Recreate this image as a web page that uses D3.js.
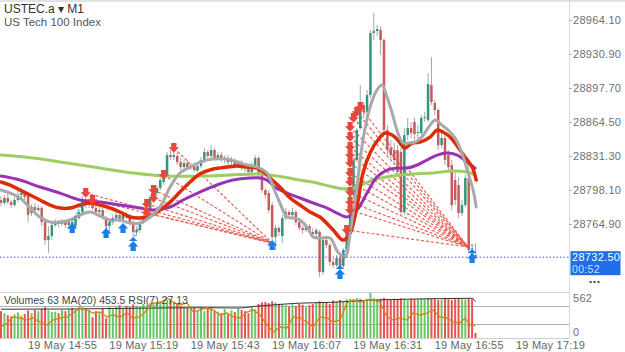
<!DOCTYPE html>
<html>
<head>
<meta charset="utf-8">
<script src="https://cdn.jsdelivr.net/npm/d3@7"></script>
<style>
  body { margin: 0; background: #fff; }
  svg { display: block; font-family: "Liberation Sans", Arial, sans-serif; }
</style>
</head>
<body>
<div id="main"></div>
<script>
// ---- data ----
var priceTicks = [28964.10, 28930.90, 28897.70, 28864.50, 28831.30, 28798.10, 28764.90];
var tickBars = [18, 42, 66, 90, 114, 138, 162];
var timeLabels = ["19 May 14:55", "19 May 15:19", "19 May 15:43", "19 May 16:07",
                  "19 May 16:31", "19 May 16:55", "19 May 17:19"];
var lastPrice = 28732.50;

// [open, high, low, close], one per M1 bar starting 14:37
var candles = [
  [28788.3,28792.2,28782.4,28785.4],[28785.4,28793.2,28783.4,28790.3],[28790.3,28794.2,28784.4,28786.3],
  [28786.3,28788.3,28780.5,28783.4],[28783.4,28791.2,28781.5,28788.3],[28788.3,28798.1,28786.3,28793.2],
  [28793.2,28800.0,28790.3,28795.1],[28795.1,28798.1,28788.3,28791.2],[28793.2,28795.1,28766.8,28773.7],
  [28775.6,28784.4,28772.7,28781.5],[28781.5,28785.4,28775.6,28778.5],[28778.5,28783.4,28776.6,28780.5],
  [28780.5,28782.4,28762.9,28766.8],[28766.8,28768.8,28744.4,28749.2],[28749.2,28762.9,28736.6,28753.1],
  [28753.1,28766.8,28749.2,28763.9],[28763.9,28769.7,28761.9,28766.8],[28766.8,28768.8,28761.9,28764.9],
  [28764.9,28769.7,28762.9,28766.8],[28766.8,28768.8,28761.0,28763.9],[28763.9,28769.7,28760.0,28766.8],
  [28766.8,28769.7,28757.1,28762.9],[28762.9,28772.7,28761.0,28770.7],[28770.7,28778.5,28768.8,28776.6],
  [28776.6,28792.2,28774.6,28788.3],[28788.3,28790.3,28780.5,28783.4],[28783.4,28788.3,28780.5,28785.4],
  [28785.4,28788.3,28778.5,28780.5],[28780.5,28783.4,28773.7,28776.6],[28776.6,28781.5,28774.6,28778.5],
  [28778.5,28780.5,28768.8,28770.7],[28770.7,28772.7,28759.0,28762.9],[28762.9,28769.7,28757.1,28766.8],
  [28766.8,28773.7,28763.9,28770.7],[28770.7,28776.6,28768.8,28773.7],[28773.7,28775.6,28766.8,28769.7],
  [28769.7,28776.6,28766.8,28774.6],[28774.6,28776.6,28769.7,28772.7],[28772.7,28774.6,28763.9,28766.8],
  [28766.8,28768.8,28752.2,28757.1],[28757.1,28762.9,28753.1,28759.0],[28759.0,28768.8,28756.1,28766.8],
  [28766.8,28773.7,28764.9,28770.7],[28770.7,28781.5,28768.8,28778.5],[28778.5,28793.2,28776.6,28790.3],
  [28790.3,28798.1,28788.3,28795.1],[28795.1,28802.9,28792.2,28800.0],[28800.0,28809.8,28798.1,28807.8],
  [28805.9,28815.6,28802.9,28813.7],[28813.7,28835.2,28812.7,28832.2],[28832.2,28837.1,28827.4,28830.3],
  [28830.3,28837.1,28827.4,28832.2],[28831.3,28834.2,28822.5,28825.4],[28825.4,28829.3,28817.6,28820.5],
  [28820.5,28827.4,28817.6,28824.4],[28824.4,28827.4,28817.6,28819.5],[28819.5,28824.4,28817.6,28821.5],
  [28821.5,28824.4,28815.6,28817.6],[28817.6,28824.4,28815.6,28821.5],[28821.5,28830.3,28819.5,28827.4],
  [28827.4,28839.1,28824.4,28835.2],[28835.2,28837.1,28829.3,28831.3],[28831.3,28842.0,28829.3,28837.1],
  [28837.1,28839.1,28827.4,28829.3],[28829.3,28835.2,28827.4,28832.2],[28832.2,28835.2,28825.4,28827.4],
  [28827.4,28832.2,28824.4,28829.3],[28829.3,28832.2,28822.5,28825.4],[28825.4,28830.3,28822.5,28827.4],
  [28827.4,28829.3,28820.5,28822.5],[28822.5,28827.4,28819.5,28824.4],[28824.4,28827.4,28817.6,28820.5],
  [28820.5,28823.5,28815.6,28819.5],[28819.5,28822.5,28812.7,28815.6],[28815.6,28825.4,28812.7,28822.5],
  [28822.5,28832.2,28820.5,28829.3],[28829.3,28831.3,28809.8,28812.7],[28812.7,28814.7,28795.1,28798.1],
  [28798.1,28800.0,28790.3,28793.2],[28795.1,28798.1,28775.6,28778.5],[28783.4,28786.3,28749.2,28752.2],
  [28752.2,28763.9,28739.5,28761.0],[28761.0,28762.9,28753.1,28757.1],[28753.1,28773.7,28746.3,28770.7],
  [28770.7,28780.5,28768.8,28776.6],[28776.6,28778.5,28770.7,28773.7],[28773.7,28780.5,28771.7,28776.6],
  [28776.6,28778.5,28763.9,28766.8],[28766.8,28770.7,28759.0,28761.0],[28761.0,28763.9,28755.1,28759.0],
  [28759.0,28764.9,28757.1,28762.9],[28762.9,28764.9,28755.1,28757.1],[28757.1,28761.0,28752.2,28755.1],
  [28755.1,28761.0,28752.2,28759.0],[28757.1,28759.0,28713.1,28718.0],[28718.0,28752.2,28715.1,28749.2],
  [28749.2,28752.2,28741.4,28744.4],[28744.4,28746.3,28723.9,28727.8],[28727.8,28731.7,28721.9,28724.8],
  [28724.8,28734.6,28722.9,28731.7],[28731.7,28734.6,28715.1,28723.9],[28723.9,28741.4,28721.9,28739.5],
  [28739.5,28759.0,28736.6,28757.1],[28757.1,28795.1,28755.1,28793.2],[28793.2,28829.3,28790.3,28827.4],
  [28827.4,28858.6,28825.4,28856.7],[28858.6,28900.6,28856.7,28881.1],[28881.1,28884.0,28868.4,28874.2],
  [28874.2,28895.7,28871.3,28890.8],[28890.8,28954.3,28887.9,28951.4],[28951.4,28970.9,28944.5,28953.3],
  [28953.3,28959.2,28948.4,28955.3],[28954.3,28958.2,28929.9,28944.5],[28944.5,28946.5,28851.8,28856.7],
  [28856.7,28861.5,28832.2,28837.1],[28839.1,28846.9,28827.4,28832.2],[28837.1,28844.0,28822.5,28827.4],
  [28837.1,28842.0,28812.7,28815.6],[28835.2,28839.1,28773.7,28776.6],[28776.6,28858.6,28773.7,28851.8],
  [28851.8,28868.4,28846.9,28858.6],[28858.6,28864.5,28848.8,28853.7],[28864.5,28868.4,28846.9,28852.7],
  [28853.7,28861.5,28842.0,28854.7],[28853.7,28871.3,28851.8,28868.4],[28868.4,28874.2,28864.5,28869.3],
  [28866.4,28912.3,28864.5,28901.6],[28900.6,28927.9,28881.1,28884.0],[28883.0,28886.0,28871.3,28876.2],
  [28876.2,28878.1,28837.1,28842.0],[28842.0,28853.7,28839.1,28848.8],[28848.8,28851.8,28822.5,28827.4],
  [28832.2,28837.1,28815.6,28820.5],[28822.5,28827.4,28778.5,28783.4],[28807.8,28815.6,28783.4,28788.3],
  [28802.9,28810.8,28770.7,28775.6],[28775.6,28788.3,28772.7,28783.4],[28783.4,28812.7,28781.5,28809.8],
  [28809.8,28827.4,28736.6,28739.5],[28739.5,28744.4,28731.7,28734.6],[28734.6,28746.3,28731.7,28732.5]
];

var volumes = [
  335,310,285,270,295,320,280,300,345,310, 350,335,365,385,345,325,330,310,350,335,
  360,375,350,385,395,370,350,260,335,310, 370,245,385,360,395,410,375,400,385,420,
  405,390,425,410,435,420,450,460,445,475, 465,445,425,395,385,375,400,375,350,385,
  335,370,395,345,330,310,360,295,345,325, 370,350,335,310,385,360,425,445,450,435,
  460,445,425,420,410,395,420,400,425,415, 385,410,425,445,460,435,445,425,470,455,
  475,460,485,490,480,500,490,475,490,562, 495,485,490,500,490,475,490,485,495,490,
  475,490,485,480,490,485,500,490,485,475, 480,490,485,475,485,490,485,480,490,485,
  63
];

// [bar, value] samples of the indicators
var volMA = [[0,360],[20,362],[40,372],[60,378],[70,375],[75,395],[88,435],[98,446],
             [108,470],[120,485],[130,492],[139,496],[140,453.5]];
var rsi = [[0,23.9],[1.8,32.6],[3.5,45.7],[5.6,43.5],[7.7,39.1],[9.4,43.5],[11.5,34.8],[13.6,28.3],
  [15.3,39.1],[17.4,43.5],[19.5,45.7],[21.2,54.3],[23.3,65.2],[25.4,60.9],[27.1,54.3],[29.2,56.5],
  [31.3,45.7],[33,50],[35.1,45.7],[37.2,54.3],[39,43.5],[41,45.7],[43.1,60.9],[44.9,76.1],
  [46.9,76.1],[49,87],[50.8,78.3],[52.8,71.7],[54.9,76.1],[56.7,56.5],[58.7,60.9],[60.8,65.2],
  [62.6,60.9],[64.6,50],[66.7,54.3],[68.5,45.7],[70.5,43.5],[72.6,56.5],[74.4,60.9],[76.4,50],
  [78.5,28.3],[80.3,13],[82.3,23.9],[84.4,21.7],[86.2,45.7],[88.2,43.5],[90.3,34.8],[92.1,23.9],
  [94.1,45.7],[96.2,43.5],[98,34.8],[100,39.1],[102.1,76.1],[103.9,82.6],[105.9,78.3],[108,82.6],
  [109.8,82.6],[111.8,78.3],[113.9,45.7],[115.7,39.1],[117.7,43.5],[119.8,39.1],[121.6,54.3],
  [123.6,50],[125.7,54.3],[127.5,60.9],[129.5,45.7],[131.6,43.5],[133.4,34.8],[135.4,32.6],
  [136.9,43.5],[138.4,28.3],[140,27.13]];

var maGray = [[0,28798.1],[2.7,28795.1],[5.6,28790.3],[8.6,28780.5],[11.5,28771.7],[14.5,28766.8],
  [17.4,28766.8],[20.4,28768.8],[23.3,28773.7],[26.3,28776.6],[29.2,28772.7],[32.2,28768.8],
  [35.1,28768.8],[38.1,28765.8],[41,28765.8],[44,28771.7],[46.9,28781.5],[49.9,28801.0],
  [52.8,28814.7],[55.8,28820.5],[58.7,28825.4],[62.6,28828.3],[66.7,28828.3],[69.6,28825.4],
  [72.6,28822.5],[75.5,28820.5],[78.5,28814.7],[80.3,28801.0],[82.3,28785.4],[84.4,28771.7],
  [86.2,28770.7],[88.2,28768.8],[90.3,28761.9],[92.1,28752.2],[94.1,28751.2],[97.1,28751.2],
  [99.4,28737.5],[101.5,28732.6],[103,28756.1],[105,28801.0],[106.8,28846.9],[108.9,28879.1],
  [110.9,28895.7],[112.4,28900.6],[113.9,28888.9],[115.4,28873.3],[117.1,28853.7],[118.6,28844.0],
  [120.1,28844.0],[122.2,28844.9],[124.2,28849.8],[126,28858.6],[128.1,28866.4],[130.1,28861.5],
  [131.9,28856.7],[134,28848.8],[136,28834.2],[137.8,28814.7],[139.3,28798.1],[140.2,28781.5]];
var maRed = [[0,28805.9],[2.7,28802.9],[5.6,28798.1],[8.6,28793.2],[11.5,28788.3],[14.5,28783.4],
  [17.4,28780.5],[20.4,28780.5],[23.3,28783.4],[26.3,28785.4],[29.2,28783.4],[32.2,28780.5],
  [35.1,28776.6],[38.1,28771.7],[41,28770.7],[44,28772.7],[46.9,28778.5],[49.9,28786.3],
  [52.8,28796.1],[55.8,28805.9],[58.7,28813.7],[62.6,28818.6],[66.7,28820.5],[69.6,28821.5],
  [72.6,28820.5],[75.5,28819.5],[77.9,28814.7],[79.4,28809.8],[82.3,28801.0],[85.3,28790.3],
  [88.2,28783.4],[91.2,28776.6],[94.1,28771.7],[98,28759.0],[100.9,28749.2],[103,28756.1],
  [105,28781.5],[106.8,28814.7],[108.9,28834.2],[111.2,28846.9],[113.3,28853.7],[115.4,28851.8],
  [117.1,28846.9],[119.2,28839.1],[121.3,28844.0],[123.6,28844.9],[126.6,28849.8],[128.7,28856.7],
  [130.4,28854.7],[132.5,28849.8],[134.8,28840.1],[136.9,28830.3],[139,28820.5],[140.2,28807.8]];
var maPurple = [[0,28811.7],[5.6,28807.8],[11.5,28801.0],[17.4,28795.1],[23.3,28788.3],[29.2,28786.3],
  [35.1,28783.4],[41,28780.5],[44.8,28778.5],[49.9,28781.5],[53.7,28788.3],[58.7,28796.1],
  [63.7,28803.0],[68.5,28807.8],[73.5,28809.8],[76.4,28809.8],[78.5,28807.8],[80.8,28801.0],
  [84.4,28795.1],[88.2,28790.3],[92.1,28785.4],[96.2,28780.5],[99.1,28775.6],[102.1,28771.7],
  [105,28778.5],[108,28795.1],[110.9,28810.8],[113.9,28817.6],[116.8,28819.5],[119.8,28819.5],
  [122.8,28822.5],[125.7,28827.4],[128.7,28832.2],[131.6,28834.2],[134.6,28832.2],[137.5,28825.4],
  [139.9,28819.5]];
var maGreen = [[0,28832.2],[9.4,28829.3],[19.5,28824.4],[29.2,28819.5],[39,28814.7],[49,28811.7],
  [58.7,28811.7],[67.6,28812.7],[76.4,28813.7],[83.2,28810.8],[88.2,28807.8],[93.2,28804.9],
  [98,28801.0],[103,28799.0],[106.8,28803.9],[110.9,28808.8],[115.7,28811.7],[121.6,28813.7],
  [127.5,28814.7],[133.4,28816.6],[137.5,28815.6],[139.9,28812.7]];

// signal arrows [bar, price] (sell = red down, buy = blue up with stack count)
var sellArrows = [[25,28795.1],[27,28788.3],[43,28784.4],[43,28775.6],[45,28798.1],[45,28790.3],
  [48,28812.7],[51,28839.1],
  [102,28759.0],[103,28778.5],[103,28786.3],[103,28796.1],[103,28805.9],[103,28814.7],[103,28824.4],
  [103,28832.2],[103,28840.1],[103,28849.8],[103,28859.6],[104,28868.4],[105,28874.2],[106,28879.1]];
var buyArrows = [[21,28761.0,1],[31,28756.1,1],[36,28761.0,1],[39,28743.4,2],[80,28744.4,1],
  [100,28716.0,2],[139,28731.7,2]];
var fanTargets = [[80,28746.3],[137.8,28742.4]];
var fanSplit = 8;
var buyTrails = [[21,28766,24,28786],[31,28761,33,28770],[39,28750,41,28764],
  [100,28722,102,28745],[139,28737,139,28747]];

// ---- layout ----
var W = 625, H = 352;
var plotRight = 569, mainBottom = 292, volTop = 293, volBottom = 338;

var svg = d3.select("#main").append("svg")
  .attr("width", W)
  .attr("height", H);

var x = d3.scaleLinear().domain([0, 140]).range([1, 475.5]);
var y = d3.scaleLinear().domain([28731.7, 28964.1]).range([258, 20]);
var yVol = d3.scaleLinear().domain([0, 562]).range([volBottom, volTop]);
var yRsi = d3.scaleLinear().domain([0, 100]).range([volBottom, 292]);

svg.append("clipPath").attr("id", "clipMain")
  .append("rect").attr("x", 0).attr("y", 2).attr("width", plotRight).attr("height", mainBottom - 2);
svg.append("clipPath").attr("id", "clipVol")
  .append("rect").attr("x", 0).attr("y", volTop).attr("width", plotRight).attr("height", volBottom - volTop);

// frame lines
svg.append("line").attr("x1", 0).attr("x2", W).attr("y1", 1).attr("y2", 1)
  .attr("stroke", "#e2e2e2").attr("stroke-width", 2);
svg.append("line").attr("x1", plotRight + 0.5).attr("x2", plotRight + 0.5).attr("y1", 0).attr("y2", volBottom)
  .attr("stroke", "#dcdcdc");
[mainBottom + 0.5, volBottom + 0.5].forEach(function(v) {
  svg.append("line").attr("x1", 0).attr("x2", plotRight).attr("y1", v).attr("y2", v)
    .attr("stroke", "#cfcfcf");
});
[70, 30].forEach(function(v) {
  svg.append("line").attr("x1", 0).attr("x2", plotRight)
    .attr("y1", Math.round(yRsi(v)) + 0.5).attr("y2", Math.round(yRsi(v)) + 0.5)
    .attr("stroke", "#9a9a9a").attr("stroke-width", 0.8);
});

// ---- main panel ----
var main = svg.append("g").attr("clip-path", "url(#clipMain)");

// dashed fans
var fanLayer = main.append("g")
  .attr("stroke", "#e6473c").attr("stroke-width", 1.2).attr("stroke-dasharray", "3,2")
  .attr("opacity", 0.85);
sellArrows.forEach(function(d, i) {
  var t = fanTargets[i < fanSplit ? 0 : 1];
  fanLayer.append("line")
    .attr("x1", x(d[0])).attr("y1", y(d[1]))
    .attr("x2", x(t[0])).attr("y2", y(t[1]));
});

// candles
var cg = main.append("g");
candles.forEach(function(d, i) {
  var cx = x(i);
  cg.append("line")
    .attr("x1", cx).attr("x2", cx)
    .attr("y1", y(d[1])).attr("y2", y(d[2]))
    .attr("stroke", "#a6a6a6").attr("stroke-width", 1);
  var top = y(Math.max(d[0], d[3])), bot = y(Math.min(d[0], d[3]));
  cg.append("rect")
    .attr("x", cx - 1.25).attr("width", 2.5)
    .attr("y", top).attr("height", Math.max(1, bot - top))
    .attr("fill", d[3] >= d[0] ? "#33967a" : "#c95a5a");
});

// moving averages
var maLine = d3.line()
  .x(function(d) { return x(d[0]); })
  .y(function(d) { return y(d[1]); })
  .curve(d3.curveCatmullRom.alpha(0.5));
[[maGreen, "#9dce62", 3], [maPurple, "#9933b5", 3], [maRed, "#de2c06", 3.5], [maGray, "#a9a9a9", 3]]
  .forEach(function(s) {
    main.append("path").datum(s[0])
      .attr("d", maLine)
      .attr("fill", "none")
      .attr("stroke", s[1])
      .attr("stroke-width", s[2])
      .attr("stroke-linecap", "round")
      .attr("stroke-linejoin", "round");
  });

// current price line
main.append("line")
  .attr("x1", 0).attr("x2", plotRight)
  .attr("y1", y(lastPrice)).attr("y2", y(lastPrice))
  .attr("stroke", "#5a55c8").attr("stroke-width", 1).attr("stroke-dasharray", "1.5,2");

// buy trails
buyTrails.forEach(function(d) {
  main.append("line")
    .attr("x1", x(d[0])).attr("y1", y(d[1]))
    .attr("x2", x(d[2])).attr("y2", y(d[3]))
    .attr("stroke", "#2f8cf0").attr("stroke-width", 1.6).attr("stroke-dasharray", "1.2,2.2");
});

// arrows
sellArrows.forEach(function(d) {
  var cx = x(d[0]), cy = y(d[1]);
  main.append("path")
    .attr("d", "M" + (cx - 2.6) + "," + (cy - 5) + "h5.2v4.2h2.6l-5.2,5.6l-5.2,-5.6h2.6z")
    .attr("fill", "#e8483c");
});
buyArrows.forEach(function(d) {
  var cx = x(d[0]), cy = y(d[1]);
  main.append("path")
    .attr("d", "M" + cx + "," + (cy - 5) + "l5.2,5.4h-2.6v4.6h-5.2v-4.6h-2.6z")
    .attr("fill", "#1c7fe6");
  for (var k = 1; k < d[2]; k++) {
    main.append("path")
      .attr("d", "M" + cx + "," + (cy - 5 - 4 * k) + "l4.2,4h-8.4z")
      .attr("fill", "#1c7fe6");
  }
});

// ---- volume / RSI panel ----
var vol = svg.append("g").attr("clip-path", "url(#clipVol)");
volumes.forEach(function(v, i) {
  var c = candles[i];
  vol.append("rect")
    .attr("x", x(i) - 1).attr("width", 2)
    .attr("y", yVol(v)).attr("height", volBottom - yVol(v))
    .attr("fill", c[3] >= c[0] ? "#66c866" : "#e65450");
});

vol.append("path").datum(volMA)
  .attr("d", d3.line().x(function(d) { return x(d[0]); }).y(function(d) { return yVol(d[1]); })
    .curve(d3.curveMonotoneX))
  .attr("fill", "none").attr("stroke", "#333").attr("stroke-width", 1);

vol.append("path").datum(rsi)
  .attr("d", d3.line().x(function(d) { return x(d[0]); }).y(function(d) { return yRsi(d[1]); }))
  .attr("fill", "none").attr("stroke", "#d9820f").attr("stroke-width", 1.3);

svg.append("text")
  .attr("x", 4).attr("y", 304)
  .attr("font-size", 10.5).attr("fill", "#444")
  .text("Volumes 63 MA(20) 453.5 RSI(7) 27.13");

// ---- axes ----
var yAxis = svg.append("g")
  .attr("transform", "translate(" + plotRight + ",0)")
  .call(d3.axisRight(y).tickValues(priceTicks).tickFormat(d3.format(".2f")).tickSize(3).tickPadding(1));
yAxis.select(".domain").remove();
yAxis.selectAll(".tick line").attr("stroke", "#b5b5b5");
yAxis.selectAll("text")
  .attr("fill", "#707070").attr("font-size", 11).attr("letter-spacing", 0.3)
  .attr("font-family", "'Liberation Sans', Arial, sans-serif");

var volAxis = svg.append("g").attr("font-size", 11).attr("fill", "#707070").attr("letter-spacing", 0.3);
volAxis.append("text").attr("x", 573).attr("y", 302).text("562");
volAxis.append("text").attr("x", 573).attr("y", 336).text("0");

var xAxis = svg.append("g")
  .attr("transform", "translate(0," + volBottom + ")")
  .call(d3.axisBottom(x).tickValues(tickBars)
    .tickFormat(function(d, i) { return timeLabels[i]; })
    .tickSize(0).tickPadding(3));
xAxis.select(".domain").remove();
xAxis.selectAll("text")
  .attr("fill", "#666").attr("font-size", 11).attr("letter-spacing", 0.2)
  .attr("font-family", "'Liberation Sans', Arial, sans-serif");

// price tag
var tagY = y(lastPrice);
svg.append("rect")
  .attr("x", 570.5).attr("y", tagY - 6).attr("width", 50).attr("height", 24)
  .attr("fill", "#1f6ee8");
svg.append("text").attr("x", 572).attr("y", tagY + 4)
  .attr("font-size", 11).attr("fill", "#fff").attr("letter-spacing", 0.3)
  .text(d3.format(".2f")(lastPrice));
svg.append("text").attr("x", 572).attr("y", tagY + 15.5)
  .attr("font-size", 10.5).attr("fill", "#cfe0ff").attr("letter-spacing", 0.3)
  .text("00:52");
svg.append("text").attr("x", 595).attr("y", 284).attr("text-anchor", "middle")
  .attr("font-size", 8).attr("font-weight", "bold").attr("fill", "#444").attr("letter-spacing", 1)
  .text("•••");

// title
svg.append("text").attr("x", 4).attr("y", 13)
  .attr("font-size", 12).attr("fill", "#333")
  .text("USTEC.a ▾ M1");
svg.append("text").attr("x", 4).attr("y", 26)
  .attr("font-size", 11.5).attr("fill", "#555")
  .text("US Tech 100 Index");
</script>
</body>
</html>
